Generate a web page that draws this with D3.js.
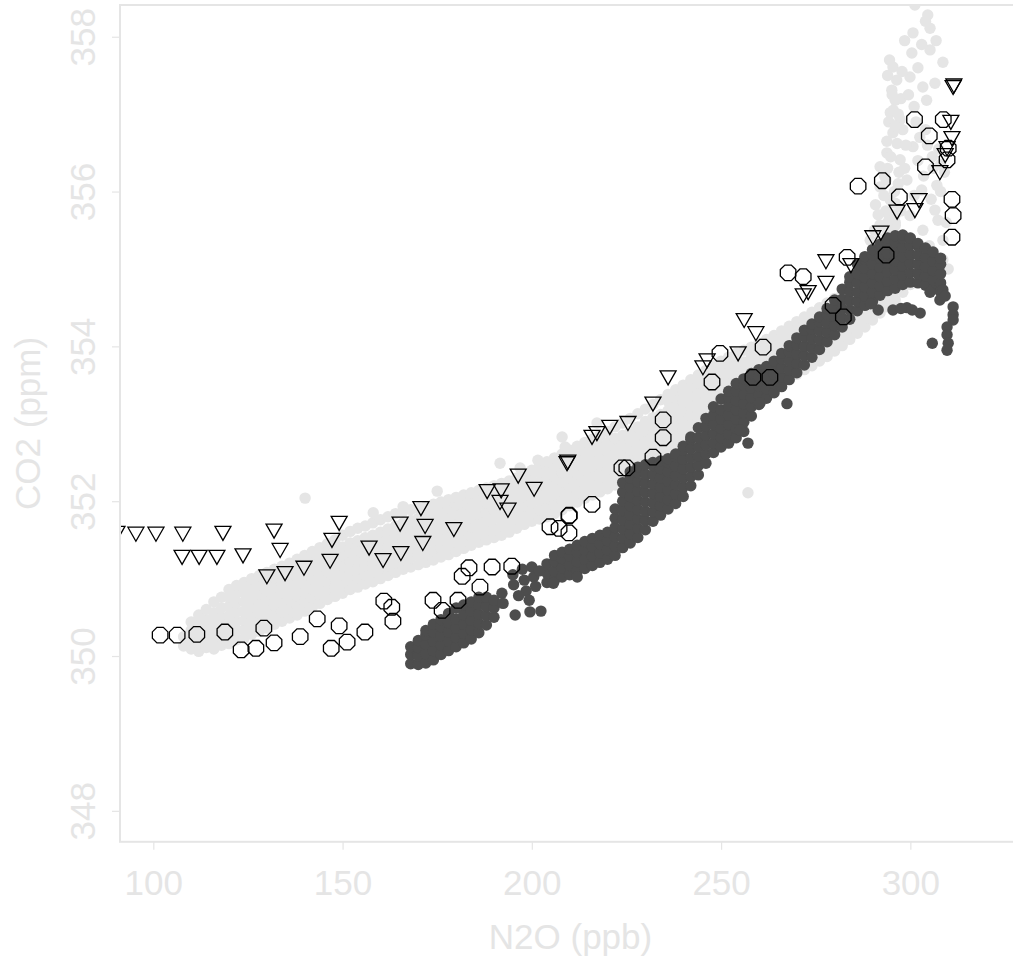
<!DOCTYPE html>
<html>
<head>
<meta charset="utf-8">
<script src="https://cdn.jsdelivr.net/npm/d3@7"></script>
<style>
  html, body { margin: 0; padding: 0; background: #ffffff; }
  svg { display: block; }
  text { font-family: "Liberation Sans", Arial, sans-serif; }
</style>
</head>
<body>
<div id="chart"></div>
<script>
// ---- Data -----------------------------------------------------------------
// Axis ticks
const xTicks = [100, 150, 200, 250, 300];
const yTicks = [348, 350, 352, 354, 356, 358];

// Light grey cloud, listed as [N2O, [CO2 readings at that N2O]]
const lightCols = [
  [108, [350.13, 350.25]],
  [110, [350.09, 350.21, 350.33, 350.44]],
  [112, [350.06, 350.17, 350.29, 350.41, 350.53]],
  [114, [350.11, 350.23, 350.35, 350.47, 350.60]],
  [116, [350.09, 350.20, 350.32, 350.44, 350.56, 350.70]],
  [118, [350.14, 350.26, 350.38, 350.50, 350.62, 350.76]],
  [120, [350.16, 350.28, 350.40, 350.52, 350.64, 350.76, 350.86]],
  [122, [350.21, 350.33, 350.45, 350.57, 350.69, 350.81, 350.91]],
  [124, [350.23, 350.34, 350.46, 350.58, 350.70, 350.82, 350.95]],
  [126, [350.28, 350.40, 350.52, 350.64, 350.76, 350.88, 351.00]],
  [128, [350.32, 350.44, 350.56, 350.68, 350.80, 350.92, 351.04]],
  [130, [350.36, 350.48, 350.60, 350.72, 350.84, 350.96, 351.08]],
  [132, [350.41, 350.53, 350.65, 350.77, 350.89, 351.01, 351.12]],
  [134, [350.45, 350.57, 350.69, 350.81, 350.93, 351.05, 351.16]],
  [136, [350.49, 350.61, 350.73, 350.85, 350.97, 351.09, 351.20]],
  [138, [350.53, 350.65, 350.77, 350.89, 351.01, 351.13, 351.25]],
  [140, [350.58, 350.70, 350.82, 350.94, 351.06, 351.18, 351.30]],
  [142, [350.63, 350.75, 350.87, 350.99, 351.11, 351.23, 351.35]],
  [144, [350.68, 350.80, 350.92, 351.04, 351.16, 351.28, 351.40]],
  [146, [350.73, 350.85, 350.97, 351.09, 351.21, 351.33, 351.45]],
  [148, [350.77, 350.89, 351.01, 351.13, 351.25, 351.37, 351.50]],
  [150, [350.81, 350.93, 351.05, 351.17, 351.29, 351.41, 351.56]],
  [152, [350.86, 350.98, 351.10, 351.22, 351.34, 351.46, 351.61]],
  [154, [350.89, 351.01, 351.13, 351.25, 351.37, 351.49, 351.65]],
  [156, [350.93, 351.05, 351.17, 351.29, 351.41, 351.53, 351.68]],
  [158, [350.96, 351.08, 351.20, 351.32, 351.44, 351.56, 351.72]],
  [160, [351.00, 351.12, 351.24, 351.36, 351.48, 351.60, 351.76]],
  [162, [351.04, 351.16, 351.28, 351.40, 351.52, 351.64, 351.80]],
  [164, [351.08, 351.20, 351.32, 351.44, 351.56, 351.68, 351.84]],
  [166, [351.12, 351.24, 351.36, 351.48, 351.60, 351.72, 351.87]],
  [168, [351.15, 351.27, 351.39, 351.51, 351.63, 351.75, 351.89]],
  [170, [351.18, 351.30, 351.42, 351.54, 351.66, 351.78, 351.91]],
  [172, [351.21, 351.33, 351.45, 351.57, 351.69, 351.81, 351.93]],
  [174, [351.24, 351.36, 351.48, 351.60, 351.72, 351.84, 351.96]],
  [176, [351.28, 351.40, 351.52, 351.64, 351.76, 351.88, 351.99]],
  [178, [351.31, 351.43, 351.55, 351.67, 351.79, 351.91, 352.02]],
  [180, [351.35, 351.47, 351.59, 351.71, 351.83, 351.95, 352.05]],
  [182, [351.39, 351.51, 351.63, 351.75, 351.87, 351.99, 352.08]],
  [184, [351.43, 351.55, 351.67, 351.79, 351.91, 352.03, 352.11]],
  [186, [351.47, 351.59, 351.71, 351.83, 351.95, 352.07, 352.14]],
  [188, [351.50, 351.62, 351.74, 351.86, 351.98, 352.10, 352.17]],
  [190, [351.53, 351.65, 351.77, 351.89, 352.01, 352.13, 352.20]],
  [192, [351.56, 351.68, 351.80, 351.92, 352.04, 352.16, 352.23]],
  [194, [351.60, 351.72, 351.84, 351.96, 352.08, 352.20, 352.26]],
  [196, [351.65, 351.77, 351.89, 352.01, 352.13, 352.25, 352.30]],
  [198, [351.70, 351.82, 351.94, 352.06, 352.18, 352.30, 352.34]],
  [200, [351.74, 351.86, 351.98, 352.10, 352.22, 352.34, 352.40]],
  [202, [351.77, 351.89, 352.01, 352.13, 352.25, 352.37, 352.46]],
  [204, [351.80, 351.92, 352.04, 352.16, 352.28, 352.40, 352.51]],
  [206, [351.84, 351.96, 352.08, 352.20, 352.32, 352.44, 352.56]],
  [208, [351.89, 352.01, 352.13, 352.25, 352.37, 352.49, 352.61]],
  [210, [351.94, 352.06, 352.18, 352.30, 352.42, 352.54, 352.66]],
  [212, [351.99, 352.11, 352.23, 352.35, 352.47, 352.59, 352.71]],
  [214, [352.04, 352.16, 352.28, 352.40, 352.52, 352.64, 352.76]],
  [216, [352.08, 352.20, 352.32, 352.44, 352.56, 352.68, 352.80]],
  [218, [352.12, 352.24, 352.36, 352.48, 352.60, 352.72, 352.85]],
  [220, [352.16, 352.28, 352.40, 352.52, 352.64, 352.76, 352.90]],
  [222, [352.21, 352.33, 352.45, 352.57, 352.69, 352.81, 352.96]],
  [224, [352.25, 352.37, 352.49, 352.61, 352.73, 352.85, 353.01]],
  [226, [352.30, 352.42, 352.54, 352.66, 352.78, 352.90, 353.07]],
  [228, [352.36, 352.48, 352.60, 352.72, 352.84, 352.96, 353.13]],
  [230, [352.43, 352.55, 352.67, 352.79, 352.91, 353.03, 353.19]],
  [232, [352.48, 352.60, 352.72, 352.84, 352.96, 353.08, 353.25]],
  [234, [352.52, 352.64, 352.76, 352.88, 353.00, 353.12, 353.31]],
  [236, [352.57, 352.69, 352.81, 352.93, 353.05, 353.17, 353.29, 353.38]],
  [238, [352.62, 352.74, 352.86, 352.98, 353.10, 353.22, 353.34, 353.44]],
  [240, [352.68, 352.80, 352.92, 353.04, 353.16, 353.28, 353.40, 353.50]],
  [242, [352.74, 352.86, 352.98, 353.10, 353.22, 353.34, 353.46, 353.57]],
  [244, [352.81, 352.93, 353.05, 353.17, 353.29, 353.41, 353.53, 353.63]],
  [246, [352.87, 352.99, 353.11, 353.23, 353.35, 353.47, 353.59, 353.69]],
  [248, [352.93, 353.05, 353.17, 353.29, 353.41, 353.53, 353.65, 353.75]],
  [250, [352.99, 353.11, 353.23, 353.35, 353.47, 353.59, 353.71, 353.81]],
  [252, [353.06, 353.18, 353.30, 353.42, 353.54, 353.66, 353.78, 353.86]],
  [254, [353.13, 353.25, 353.37, 353.49, 353.61, 353.73, 353.85, 353.91]],
  [256, [353.20, 353.32, 353.44, 353.56, 353.68, 353.80, 353.95]],
  [258, [353.26, 353.38, 353.50, 353.62, 353.74, 353.86, 353.99]],
  [260, [353.33, 353.45, 353.57, 353.69, 353.81, 353.93, 354.04]],
  [262, [353.40, 353.52, 353.64, 353.76, 353.88, 354.00, 354.09]],
  [264, [353.46, 353.58, 353.70, 353.82, 353.94, 354.06, 354.14]],
  [266, [353.52, 353.64, 353.76, 353.88, 354.00, 354.12, 354.20]],
  [268, [353.58, 353.70, 353.82, 353.94, 354.06, 354.18, 354.26]],
  [270, [353.64, 353.76, 353.88, 354.00, 354.12, 354.24, 354.32]],
  [272, [353.70, 353.82, 353.94, 354.06, 354.18, 354.30, 354.38]],
  [274, [353.75, 353.87, 353.99, 354.11, 354.23, 354.35, 354.44]],
  [276, [353.81, 353.93, 354.05, 354.17, 354.29, 354.41, 354.50]],
  [278, [353.87, 353.99, 354.11, 354.23, 354.35, 354.47, 354.56]],
  [280, [353.94, 354.06, 354.18, 354.30, 354.42, 354.54, 354.62]],
  [282, [354.01, 354.13, 354.25, 354.37, 354.49, 354.61, 354.68]],
  [284, [354.09, 354.21, 354.33, 354.45, 354.57, 354.69, 354.76]],
  [286, [354.17, 354.29, 354.41, 354.53, 354.65, 354.77, 354.85]],
  [288, [354.25, 354.37, 354.49, 354.61, 354.73, 354.85, 354.97]],
  [290, [354.34, 354.46, 354.58, 354.70, 354.82, 354.94, 355.06, 355.14]],
  [292, [354.43, 354.55, 354.67, 354.79, 354.91, 355.03, 355.15, 355.27, 355.39]],
  [294, [354.51, 354.63, 354.75, 354.87, 354.99, 355.11, 355.23, 355.35, 355.47, 355.60, 355.72]],
  [296, [354.60, 354.72, 354.84, 354.96, 355.08, 355.20, 355.32, 355.44, 355.56, 355.70, 355.85]],
  [298, [354.70, 354.85, 355.00, 355.15, 355.30]],
  [300, [354.80, 354.95, 355.10]]
];

// Light grey readings away from the main band (stray points and the steep upper tail)
const lightExtra = [
  [140.1, 352.04], [257.1, 352.11], [175.0, 352.13], [191.6, 352.49], [196.9, 352.43],
  [201.6, 352.53], [208.0, 352.83], [208.8, 352.70], [217.2, 353.01], [158.1, 351.85],
  [166.0, 351.93],
  [301.2, 358.41], [304.6, 358.28], [305.2, 358.11], [300.7, 358.05], [300.4, 357.79],
  [305.2, 357.83], [308.6, 357.67], [295.4, 357.61], [296.4, 357.44], [299.9, 357.48],
  [295.1, 357.31], [303.3, 357.35], [304.3, 357.18], [296.0, 357.18], [294.7, 357.02],
  [297.3, 356.93], [295.4, 356.76], [300.7, 356.58], [293.8, 356.50], [297.3, 356.41],
  [292.0, 356.32], [293.6, 356.15], [292.0, 356.06], [299.1, 356.15], [303.0, 356.02],
  [307.0, 356.08], [294.7, 355.89], [290.8, 355.83], [299.9, 355.69], [306.5, 355.76],
  [292.0, 355.57], [303.3, 355.50], [307.3, 355.63], [294.7, 355.37], [289.4, 355.37],
  [308.6, 355.37], [308.6, 355.12], [292.0, 355.09], [286.7, 355.05],
  [294.0, 357.50], [295.5, 357.05], [294.3, 356.90], [296.5, 356.62], [294.0, 356.30],
  [295.8, 356.00], [293.0, 355.95], [297.5, 355.75], [296.0, 355.60], [298.5, 356.30],
  [298.0, 356.80], [301.5, 356.90], [302.0, 356.40], [304.5, 356.60], [306.0, 356.30],
  [308.0, 356.00], [305.5, 355.90], [301.0, 355.95], [300.0, 355.40], [302.5, 355.20],
  [305.0, 355.30], [306.0, 355.10], [309.5, 355.60], [298.0, 355.10], [301.0, 357.10],
  [298.5, 357.95], [302.0, 357.60], [306.5, 357.40], [303.0, 357.90], [297.5, 357.20],
  [304.0, 356.80], [307.5, 356.55], [309.0, 356.25], [310.0, 355.00],
  [293.5, 355.75], [295.0, 355.50], [296.8, 356.10], [294.8, 356.45], [296.0, 356.85],
  [293.8, 356.65], [295.2, 357.25], [296.8, 357.00], [294.5, 357.70], [297.8, 357.55],
  [297.0, 356.25], [298.8, 356.60], [299.5, 357.25], [293.2, 356.20], [291.5, 355.70],
  [293.0, 355.35], [290.5, 355.50], [302.5, 356.70], [305.8, 356.45], [308.0, 356.35],
  [303.5, 356.20], [306.8, 357.95], [304.0, 358.20]
];

// Dark grey cloud, same layout
const darkCols = [
  [168, [349.90, 350.02, 350.12]],
  [170, [349.89, 350.00, 350.11, 350.20]],
  [172, [349.91, 350.03, 350.15, 350.27, 350.33]],
  [174, [349.95, 350.07, 350.19, 350.31, 350.41]],
  [176, [350.02, 350.14, 350.26, 350.38, 350.47]],
  [178, [350.07, 350.19, 350.31, 350.43, 350.55]],
  [180, [350.12, 350.24, 350.36, 350.48, 350.62]],
  [182, [350.17, 350.29, 350.41, 350.53, 350.66]],
  [184, [350.22, 350.34, 350.46, 350.58, 350.70]],
  [186, [350.30, 350.42, 350.54, 350.66, 350.76]],
  [188, [350.40, 350.52, 350.64, 350.76]],
  [190, [350.50, 350.62, 350.72]],
  [204, [350.95, 351.07, 351.19]],
  [206, [350.98, 351.10, 351.22, 351.30]],
  [208, [351.02, 351.14, 351.26, 351.34]],
  [210, [351.05, 351.17, 351.29, 351.38]],
  [212, [351.10, 351.22, 351.34, 351.43]],
  [214, [351.13, 351.25, 351.37, 351.48]],
  [216, [351.17, 351.29, 351.41, 351.52]],
  [218, [351.21, 351.33, 351.45, 351.56]],
  [220, [351.25, 351.37, 351.49, 351.60]],
  [222, [351.30, 351.42, 351.54, 351.66, 351.78, 351.90]],
  [224, [351.40, 351.52, 351.64, 351.76, 351.88, 352.00, 352.12, 352.24]],
  [226, [351.46, 351.58, 351.70, 351.82, 351.94, 352.06, 352.18, 352.30, 352.38]],
  [228, [351.53, 351.65, 351.77, 351.89, 352.01, 352.13, 352.25, 352.37, 352.44]],
  [230, [351.63, 351.75, 351.87, 351.99, 352.11, 352.23, 352.35, 352.47]],
  [232, [351.74, 351.86, 351.98, 352.10, 352.22, 352.34, 352.46, 352.50]],
  [234, [351.82, 351.94, 352.06, 352.18, 352.30, 352.42, 352.52]],
  [236, [351.90, 352.02, 352.14, 352.26, 352.38, 352.50, 352.55]],
  [238, [351.97, 352.09, 352.21, 352.33, 352.45, 352.57, 352.61]],
  [240, [352.06, 352.18, 352.30, 352.42, 352.54, 352.66, 352.71]],
  [242, [352.20, 352.32, 352.44, 352.56, 352.68, 352.80, 352.83]],
  [244, [352.34, 352.46, 352.58, 352.70, 352.82, 352.95]],
  [246, [352.49, 352.61, 352.73, 352.85, 352.97, 353.07]],
  [248, [352.63, 352.75, 352.87, 352.99, 353.11, 353.22]],
  [250, [352.70, 352.82, 352.94, 353.06, 353.18, 353.32]],
  [252, [352.75, 352.87, 352.99, 353.11, 353.23, 353.35, 353.42]],
  [254, [352.82, 352.94, 353.06, 353.18, 353.30, 353.42, 353.52]],
  [256, [352.90, 353.02, 353.14, 353.26, 353.38, 353.50, 353.58]],
  [258, [353.10, 353.22, 353.34, 353.46, 353.58, 353.65]],
  [260, [353.25, 353.37, 353.49, 353.61, 353.70]],
  [262, [353.33, 353.45, 353.57, 353.69, 353.74]],
  [264, [353.40, 353.52, 353.64, 353.76, 353.81]],
  [266, [353.48, 353.60, 353.72, 353.84, 353.91]],
  [268, [353.57, 353.69, 353.81, 353.93, 354.01]],
  [270, [353.66, 353.78, 353.90, 354.02, 354.11]],
  [272, [353.76, 353.88, 354.00, 354.12, 354.21]],
  [274, [353.86, 353.98, 354.10, 354.22, 354.29]],
  [276, [353.96, 354.08, 354.20, 354.32, 354.38]],
  [278, [354.06, 354.18, 354.30, 354.42, 354.49]],
  [280, [354.15, 354.27, 354.39, 354.51, 354.60]],
  [282, [354.25, 354.37, 354.49, 354.61, 354.74]],
  [284, [354.35, 354.47, 354.59, 354.71, 354.83, 354.90]],
  [286, [354.46, 354.58, 354.70, 354.82, 354.94, 355.06]],
  [288, [354.53, 354.65, 354.77, 354.89, 355.01, 355.13, 355.16]],
  [290, [354.58, 354.70, 354.82, 354.94, 355.06, 355.18, 355.25]],
  [292, [354.66, 354.78, 354.90, 355.02, 355.14, 355.26, 355.32]],
  [294, [354.72, 354.84, 354.96, 355.08, 355.20, 355.32, 355.40]],
  [296, [354.75, 354.87, 354.99, 355.11, 355.23, 355.35, 355.43]],
  [298, [354.80, 354.92, 355.04, 355.16, 355.28, 355.40, 355.44]],
  [300, [354.83, 354.95, 355.07, 355.19, 355.31, 355.40]],
  [302, [354.82, 354.94, 355.06, 355.18, 355.30, 355.33]],
  [304, [354.79, 354.91, 355.03, 355.15, 355.27]],
  [306, [354.74, 354.86, 354.98, 355.10, 355.22]],
  [308, [354.70, 354.82, 354.94, 355.06, 355.14]]
];

// Dark grey readings off the main band
const darkExtra = [
  [192.1, 350.81], [192.4, 350.68], [195.6, 350.53], [199.5, 350.57], [202.4, 350.58],
  [195.0, 351.05], [195.2, 350.92], [197.5, 351.12], [198.0, 350.98], [198.5, 350.84],
  [200.0, 351.15], [200.5, 351.02], [201.0, 350.90], [202.0, 351.10], [199.3, 350.72],
  [196.5, 350.78], [205.7, 350.94], [212.0, 351.02],
  [255.0, 352.92], [257.1, 352.75], [260.3, 353.27], [267.4, 353.26],
  [291.5, 354.47], [295.4, 354.47], [299.1, 354.50], [302.6, 354.43], [308.6, 354.73],
  [311.3, 354.51], [311.3, 354.41], [311.3, 354.34], [309.7, 354.25], [309.7, 354.15],
  [310.0, 354.04], [309.7, 353.95], [305.8, 354.04], [307.8, 354.60], [305.2, 354.70],
  [309.2, 354.65], [289.5, 354.55], [297.5, 354.49], [300.5, 354.47]
];

// Open circles: [N2O, CO2]
const circles = [
  [101.8, 350.27], [106.3, 350.27], [111.5, 350.28], [118.9, 350.31], [123.2, 350.08],
  [127.1, 350.10], [129.2, 350.36], [131.9, 350.17], [138.8, 350.25], [143.3, 350.48],
  [147.0, 350.10], [149.1, 350.39], [151.2, 350.18], [155.9, 350.31], [160.9, 350.71],
  [163.0, 350.63], [163.3, 350.45], [173.9, 350.72], [176.3, 350.59], [180.5, 350.72],
  [181.6, 351.03], [183.4, 351.14], [186.3, 350.89], [189.5, 351.15], [194.7, 351.16],
  [204.8, 351.67], [207.2, 351.65], [209.8, 351.81], [209.9, 351.82], [209.8, 351.59],
  [215.9, 351.96], [223.8, 352.43], [225.1, 352.43], [232.0, 352.57], [234.7, 352.82],
  [234.7, 353.05], [247.6, 353.54], [249.7, 353.91], [258.4, 353.60], [262.9, 353.60],
  [261.1, 353.99], [267.7, 354.95], [271.7, 354.90], [279.6, 354.53], [282.3, 354.38],
  [283.3, 355.15], [293.6, 355.18], [286.2, 356.07], [292.6, 356.14], [297.1, 355.93],
  [304.0, 356.32], [301.1, 356.93], [305.0, 356.72], [308.7, 356.93], [310.0, 356.56],
  [309.7, 356.41], [311.0, 355.90], [311.3, 355.69], [311.0, 355.41]
];

// Open down-pointing triangles: [N2O, CO2]
const triangles = [
  [90.4, 351.59], [95.4, 351.58], [100.7, 351.58], [107.8, 351.58], [118.4, 351.59],
  [131.9, 351.62], [149.1, 351.72], [107.6, 351.28], [112.1, 351.28], [116.8, 351.28],
  [123.7, 351.30], [133.5, 351.37], [130.0, 351.03], [134.8, 351.07], [139.8, 351.14],
  [146.7, 351.23], [147.2, 351.50], [157.0, 351.40], [160.7, 351.24], [165.2, 351.71],
  [165.4, 351.33], [170.7, 351.91], [171.8, 351.68], [171.2, 351.46], [179.4, 351.64],
  [188.2, 352.13], [191.9, 352.14], [191.6, 351.99], [193.7, 351.89], [196.4, 352.33],
  [200.6, 352.16], [209.3, 352.49], [209.5, 352.51], [215.9, 352.83], [217.2, 352.88],
  [220.6, 352.96], [225.4, 353.01], [232.0, 353.26], [236.0, 353.60], [245.2, 353.73],
  [246.3, 353.82], [254.5, 353.91], [256.1, 354.34], [259.2, 354.17], [271.7, 354.66],
  [273.0, 354.70], [277.7, 354.82], [277.7, 355.10], [284.3, 355.05], [290.1, 355.41],
  [292.2, 355.47], [296.5, 355.74], [301.2, 355.76], [302.3, 355.89], [307.8, 356.25],
  [311.3, 357.35], [311.5, 357.37], [310.7, 356.90], [311.0, 356.69], [309.7, 356.56],
  [309.2, 356.47]
];

// ---- Layout ---------------------------------------------------------------
const W = 1013, H = 965;
const axisGrey = "#e5e5e5";
const lightGrey = "#e5e5e5";
const darkGrey = "#4d4d4d";
const dotR = 5.7;

const x = d3.scaleLinear().domain([91.2, 330]).range([120, 1023.9]);
const y = d3.scaleLinear().domain([347.6, 358.41]).range([841.8, 5]);

const svg = d3.select("#chart").append("svg")
  .attr("width", W).attr("height", H);

svg.append("defs").append("clipPath").attr("id", "plotClip")
  .append("rect")
  .attr("x", x.range()[0]).attr("y", y.range()[1])
  .attr("width", x.range()[1] - x.range()[0])
  .attr("height", y.range()[0] - y.range()[1]);

const plot = svg.append("g").attr("clip-path", "url(#plotClip)");

const flatten = cols => cols.flatMap(([n, cs]) => cs.map(c => [n, c]));
const lightPts = flatten(lightCols).concat(lightExtra);
const darkPts = flatten(darkCols).concat(darkExtra);

plot.append("g").selectAll("circle").data(lightPts).join("circle")
  .attr("cx", d => x(d[0])).attr("cy", d => y(d[1]))
  .attr("r", dotR).attr("fill", lightGrey);

plot.append("g").selectAll("circle").data(darkPts).join("circle")
  .attr("cx", d => x(d[0])).attr("cy", d => y(d[1]))
  .attr("r", dotR).attr("fill", darkGrey);

// Octagonal outline for the open-circle markers
function octagon(cx, cy, r) {
  const pts = d3.range(8).map(i => {
    const a = Math.PI / 8 + i * Math.PI / 4;
    return [cx + r * Math.cos(a), cy + r * Math.sin(a)];
  });
  return "M" + pts.map(p => p.join(",")).join("L") + "Z";
}
function downTriangle(cx, cy, h) {
  return `M${cx - h},${cy - 6.5}L${cx + h},${cy - 6.5}L${cx},${cy + 7.5}Z`;
}

plot.append("g").selectAll("path").data(circles).join("path")
  .attr("d", d => octagon(x(d[0]), y(d[1]), 8.4))
  .attr("fill", "none").attr("stroke", "#000").attr("stroke-width", 1.3);

plot.append("g").selectAll("path").data(triangles).join("path")
  .attr("d", d => downTriangle(x(d[0]), y(d[1]), 8))
  .attr("fill", "none").attr("stroke", "#000").attr("stroke-width", 1.3)
  .attr("stroke-linejoin", "miter");

// ---- Frame and axes --------------------------------------------------------
svg.append("rect")
  .attr("x", x.range()[0]).attr("y", y.range()[1])
  .attr("width", x.range()[1] - x.range()[0])
  .attr("height", y.range()[0] - y.range()[1])
  .attr("fill", "none").attr("stroke", axisGrey).attr("stroke-width", 2);

const xAxis = svg.append("g")
  .attr("transform", `translate(0,${y.range()[0]})`)
  .call(d3.axisBottom(x).tickValues(xTicks).tickSize(8).tickFormat(d3.format("d")));
xAxis.select(".domain").remove();
xAxis.selectAll(".tick line").attr("stroke", axisGrey).attr("stroke-width", 1.2);
xAxis.selectAll(".tick text")
  .attr("fill", axisGrey).attr("font-size", 35)
  .attr("y", 53).attr("dy", null);

const yAxis = svg.append("g")
  .attr("transform", `translate(${x.range()[0]},0)`)
  .call(d3.axisLeft(y).tickValues(yTicks).tickSize(8).tickFormat(d3.format("d")));
yAxis.select(".domain").remove();
yAxis.selectAll(".tick line").attr("stroke", axisGrey).attr("stroke-width", 1.2);
yAxis.selectAll(".tick text")
  .attr("fill", axisGrey).attr("font-size", 35)
  .attr("x", null).attr("dy", null)
  .attr("text-anchor", "middle")
  .attr("transform", "translate(-25,0) rotate(-90)");

svg.append("text")
  .attr("x", (x(91.2) + 1013) / 2 + 4).attr("y", 949)
  .attr("text-anchor", "middle").attr("font-size", 35)
  .attr("fill", axisGrey).text("N2O (ppb)");

svg.append("text")
  .attr("transform", `translate(40,${(y.range()[0] + y.range()[1]) / 2}) rotate(-90)`)
  .attr("text-anchor", "middle").attr("font-size", 35)
  .attr("fill", axisGrey).text("CO2 (ppm)");
</script>
</body>
</html>
